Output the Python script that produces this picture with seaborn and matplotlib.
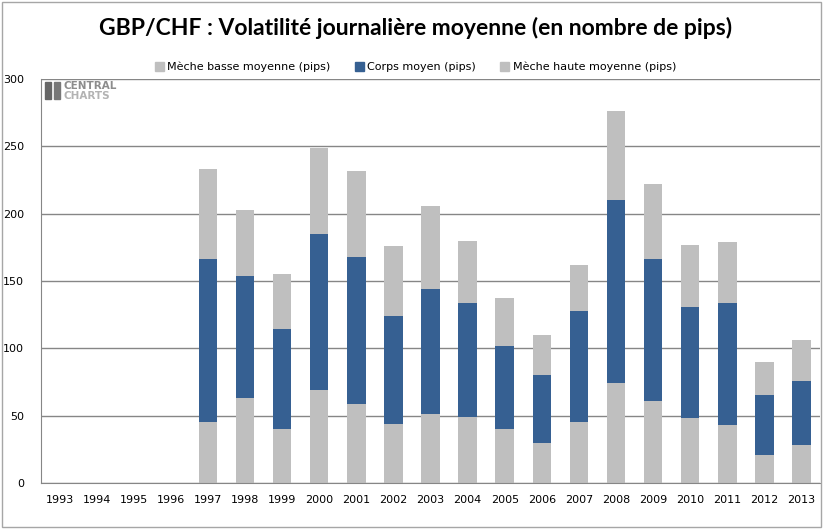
import numpy as np
import pandas as pd
import seaborn as sns
import matplotlib.pyplot as plt
from matplotlib.patches import Patch, Rectangle

years = [str(y) for y in range(1993, 2014)]
meche_basse = [0, 0, 0, 0, 45, 63, 40, 69, 59, 44, 51, 49, 40, 30, 45, 74, 61, 48, 43, 21, 28]
corps = [0, 0, 0, 0, 121, 91, 74, 116, 109, 80, 93, 85, 62, 50, 83, 136, 105, 83, 91, 44, 48]
meche_haute = [0, 0, 0, 0, 67, 49, 41, 64, 64, 52, 62, 46, 35, 30, 34, 66, 56, 46, 45, 25, 30]

df = pd.DataFrame({'annee': years, 'basse': meche_basse, 'corps': corps, 'haute': meche_haute})
df['mid'] = df['basse'] + df['corps']
df['total'] = df['mid'] + df['haute']

gris = '#BFBFBF'
bleu = '#366092'

sns.set_style('white')
plt.rcParams['font.family'] = ['DejaVu Sans']

fig = plt.figure(figsize=(8.23, 5.29), dpi=100)
ax = fig.add_axes([0.0498, 0.087, 0.9466, 0.7637])

# empilement: on dessine le total puis on recouvre
for col, c in [('total', gris), ('mid', bleu), ('basse', gris)]:
    sns.barplot(x='annee', y=col, data=df, color=c, width=0.5, saturation=1,
                linewidth=0, ax=ax, order=years)

ax.set_ylim(0, 300)
ax.set_xlim(-0.5, len(years) - 0.5)
ax.set_yticks(range(0, 301, 50))
ax.yaxis.grid(True, color='#868686', linewidth=1)
ax.set_axisbelow(True)
ax.set_xlabel('')
ax.set_ylabel('')
for s in ['top', 'right']:
    ax.spines[s].set_visible(False)
ax.spines['left'].set_color('#868686')
ax.spines['bottom'].set_color('#868686')
ax.tick_params(axis='y', length=4, color='#868686', labelsize=8, pad=8, labelcolor='black')
ax.tick_params(axis='x', length=0, labelsize=8, pad=9, labelcolor='black')
ax.set_xticks(np.arange(len(years)) + 0.5, minor=True)
ax.set_xticks(np.arange(len(years)))
ax.set_xticklabels(years)
ax.tick_params(axis='x', which='minor', length=5, color='#868686', direction='out')

handles = [Patch(color=gris, label='Mèche basse moyenne (pips)'),
           Patch(color=bleu, label='Corps moyen (pips)'),
           Patch(color=gris, label='Mèche haute moyenne (pips)')]
fig.legend(handles=handles, loc='center', bbox_to_anchor=(0.505, 0.873), ncol=3, frameon=False,
           fontsize=8, handlelength=0.8, handleheight=0.8, handletextpad=0.3, columnspacing=2.2,
           labelcolor='black')

fig.text(0.505, 0.947, 'GBP/CHF : Volatilité journalière moyenne (en nombre de pips)',
         ha='center', va='center', fontsize=16.5, family='Lato', fontweight='bold', color='black')

# logo CentralCharts
fig.patches.append(Rectangle((0.055, 0.812), 0.007, 0.033, transform=fig.transFigure, color='#666666'))
fig.patches.append(Rectangle((0.066, 0.812), 0.007, 0.033, transform=fig.transFigure, color='#777777'))
fig.text(0.0775, 0.837, 'CENTRAL', fontsize=7.5, fontweight='bold', color='#8c8c8c', va='center')
fig.text(0.0775, 0.818, 'CHARTS', fontsize=7.5, fontweight='bold', color='#b3b3b3', va='center')

fig.patches.append(Rectangle((0.003, 0.004), 0.994, 0.992, transform=fig.transFigure,
                             fill=False, edgecolor='#a6a6a6', lw=1))

fig.savefig('out.png', dpi=100)
